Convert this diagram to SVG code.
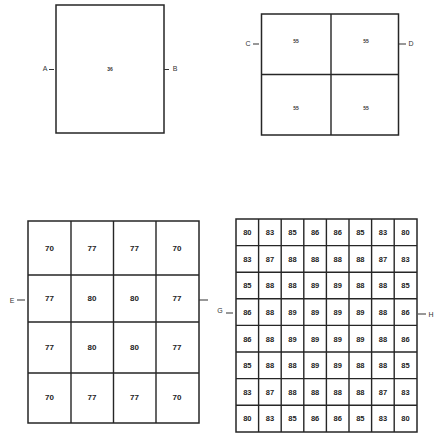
<svg xmlns="http://www.w3.org/2000/svg" width="439" height="434" viewBox="0 0 439 434">
<style>
.frame{fill:#fff;stroke:#262626;stroke-width:1.5}
.grid{stroke:#262626;stroke-width:1.4;fill:none}
.tick{stroke:#333;stroke-width:1.2}
.s{font-family:"Liberation Sans",Arial,sans-serif;font-weight:bold;font-size:5px;fill:#333;text-anchor:middle}
.l{font-family:"Liberation Sans",Arial,sans-serif;font-size:7px;fill:#333;text-anchor:middle}
.m{font-family:"Liberation Sans",Arial,sans-serif;font-weight:bold;font-size:8px;fill:#222;text-anchor:middle}
.n{font-family:"Liberation Sans",Arial,sans-serif;font-weight:bold;font-size:7.5px;fill:#222;text-anchor:middle}
</style>
<rect width="439" height="434" fill="#fff"/>
<g id="panel1">
<rect class="frame" x="56" y="5" width="108" height="128"/>
<text class="s" x="110" y="71">36</text>
<text class="l" x="45" y="71" font-size="5">A</text>
<text class="l" x="175" y="71" font-size="5">B</text>
</g>
<g id="panel2">
<rect class="frame" x="261.5" y="14" width="137" height="121"/>
<path class="grid" d="M331 14V135M261.5 74.5H398.5"/>
<text class="s" x="296" y="43">55</text>
<text class="s" x="366" y="43">55</text>
<text class="s" x="296" y="110">55</text>
<text class="s" x="366" y="110">55</text>
<text class="l" x="248" y="46" font-size="5">C</text>
<text class="l" x="411" y="46" font-size="5">D</text>
</g>
<g id="panel3">
<rect class="frame" x="28" y="221" width="171" height="202"/>
<path class="grid" d="M71 221V423M113.5 221V423M156 221V423M28 275H199M28 322H199M28 373H199"/>
<g class="m">
<text x="49.5" y="251">70</text><text x="92" y="251">77</text><text x="134.5" y="251">77</text><text x="177" y="251">70</text>
<text x="49.5" y="301">77</text><text x="92" y="301">80</text><text x="134.5" y="301">80</text><text x="177" y="301">77</text>
<text x="49.5" y="350">77</text><text x="92" y="350">80</text><text x="134.5" y="350">80</text><text x="177" y="350">77</text>
<text x="49.5" y="400">70</text><text x="92" y="400">77</text><text x="134.5" y="400">77</text><text x="177" y="400">70</text>
</g>
<text class="l" x="12" y="303" font-size="8">E</text>
<text class="l" x="220" y="313" font-size="8">G</text>
</g>
<g id="panel4">
<rect class="frame" x="236" y="219" width="181" height="213"/>
<path class="grid" d="M258.6 219V432M281.2 219V432M303.8 219V432M326.4 219V432M349 219V432M371.6 219V432M394.2 219V432M236 245.6H417M236 272.2H417M236 298.8H417M236 325.4H417M236 352H417M236 378.6H417M236 405.2H417"/>
<g class="n">
<text x="247.3" y="235.2">80</text><text x="269.9" y="235.2">83</text><text x="292.5" y="235.2">85</text><text x="315.1" y="235.2">86</text><text x="337.7" y="235.2">86</text><text x="360.3" y="235.2">85</text><text x="382.9" y="235.2">83</text><text x="405.5" y="235.2">80</text>
<text x="247.3" y="261.8">83</text><text x="269.9" y="261.8">87</text><text x="292.5" y="261.8">88</text><text x="315.1" y="261.8">88</text><text x="337.7" y="261.8">88</text><text x="360.3" y="261.8">88</text><text x="382.9" y="261.8">87</text><text x="405.5" y="261.8">83</text>
<text x="247.3" y="288.4">85</text><text x="269.9" y="288.4">88</text><text x="292.5" y="288.4">88</text><text x="315.1" y="288.4">89</text><text x="337.7" y="288.4">89</text><text x="360.3" y="288.4">88</text><text x="382.9" y="288.4">88</text><text x="405.5" y="288.4">85</text>
<text x="247.3" y="315">86</text><text x="269.9" y="315">88</text><text x="292.5" y="315">89</text><text x="315.1" y="315">89</text><text x="337.7" y="315">89</text><text x="360.3" y="315">89</text><text x="382.9" y="315">88</text><text x="405.5" y="315">86</text>
<text x="247.3" y="341.6">86</text><text x="269.9" y="341.6">88</text><text x="292.5" y="341.6">89</text><text x="315.1" y="341.6">89</text><text x="337.7" y="341.6">89</text><text x="360.3" y="341.6">89</text><text x="382.9" y="341.6">88</text><text x="405.5" y="341.6">86</text>
<text x="247.3" y="368.2">85</text><text x="269.9" y="368.2">88</text><text x="292.5" y="368.2">88</text><text x="315.1" y="368.2">89</text><text x="337.7" y="368.2">89</text><text x="360.3" y="368.2">88</text><text x="382.9" y="368.2">88</text><text x="405.5" y="368.2">85</text>
<text x="247.3" y="394.8">83</text><text x="269.9" y="394.8">87</text><text x="292.5" y="394.8">88</text><text x="315.1" y="394.8">88</text><text x="337.7" y="394.8">88</text><text x="360.3" y="394.8">88</text><text x="382.9" y="394.8">87</text><text x="405.5" y="394.8">83</text>
<text x="247.3" y="421.4">80</text><text x="269.9" y="421.4">83</text><text x="292.5" y="421.4">85</text><text x="315.1" y="421.4">86</text><text x="337.7" y="421.4">86</text><text x="360.3" y="421.4">85</text><text x="382.9" y="421.4">83</text><text x="405.5" y="421.4">80</text>
</g>
<text class="l" x="431" y="317" font-size="8">H</text>
</g>
<g id="connectors">
<path class="tick" d="M49 69.5H54M164 69.5H169M253 44H259M399 44H406M17 300H25M199 300H208M226 313H233M418 314H426"/>
</g>
</svg>
